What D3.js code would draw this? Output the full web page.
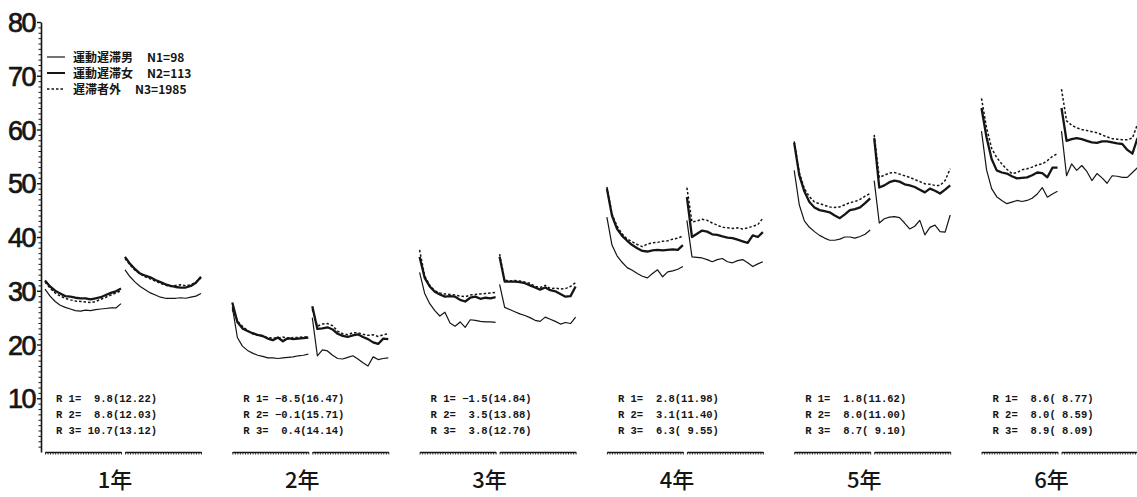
<!DOCTYPE html>
<html>
<head>
<meta charset="utf-8">
<script src="https://cdn.jsdelivr.net/npm/d3@7"></script>
<style>
  html, body { margin: 0; padding: 0; background: #fff; }
  svg { display: block; }
</style>
</head>
<body>
<svg id="chart" width="1137" height="497"></svg>
<script>
// ---------------- DATA ----------------
const grades = ["1年", "2年", "3年", "4年", "5年", "6年"];
const yTicks = [10, 20, 30, 40, 50, 60, 70, 80];
const seriesNames = ["運動遅滞男", "運動遅滞女", "遅滞者外"];
const seriesN = ["N1=98", "N2=113", "N3=1985"];

// each grade: [first segment, second segment], 16 points per segment
const maleValues = [
  [[30.3,29.0,28.0,27.3,26.9,26.6,26.3,26.2,26.4,26.3,26.5,26.6,26.7,26.8,26.8,27.6],
   [33.9,32.6,31.6,30.8,30.2,29.6,29.2,28.8,28.6,28.6,28.6,28.7,28.6,28.8,29.0,29.5]],
  [[27.0,21.3,19.7,18.9,18.4,18.0,17.8,17.5,17.5,17.4,17.5,17.6,17.7,17.9,18.0,18.2],
   [25.0,17.9,19.0,18.8,18.0,17.4,17.3,17.6,17.9,17.3,16.6,16.0,17.7,17.2,17.4,17.5]],
  [[33.4,29.5,27.6,26.3,25.3,26.0,24.0,23.4,24.2,23.2,24.6,24.5,24.3,24.2,24.2,24.1],
   [31.2,26.9,26.5,26.1,25.7,25.4,25.0,24.5,24.3,25.1,24.7,24.3,23.8,24.1,23.9,25.1]],
  [[43.7,38.5,36.5,35.3,34.3,33.8,33.2,32.7,32.4,33.2,33.9,32.6,33.5,33.7,34.0,34.5],
   [43.1,36.3,36.2,36.1,35.8,35.4,35.8,36.0,35.4,35.2,35.6,35.8,35.2,34.5,35.0,35.4]],
  [[52.4,46.0,43.0,41.8,41.0,40.3,39.8,39.4,39.4,39.6,40.0,40.0,39.8,40.1,40.5,41.3],
   [50.5,42.6,43.4,43.7,43.8,43.6,42.6,41.5,42.0,43.1,40.4,41.8,42.2,41.0,40.9,44.1]],
  [[59.7,52.5,49.0,47.5,46.8,46.2,46.5,46.8,46.6,46.8,47.2,48.0,49.2,47.4,48.0,48.5],
   [59.7,51.4,53.6,52.4,53.3,52.2,50.5,51.8,51.0,50.0,51.4,51.3,51.1,51.1,52.0,52.9]]
];
const femaleValues = [
  [[31.9,30.8,30.0,29.5,29.0,28.9,28.7,28.6,28.6,28.4,28.6,28.8,29.2,29.6,29.9,30.4],
   [36.3,35.0,34.0,33.2,32.8,32.5,32.0,31.6,31.2,30.9,30.7,30.6,30.6,30.9,31.5,32.6]],
  [[27.8,24.2,23.0,22.5,22.1,21.8,21.6,21.1,20.8,21.3,20.6,21.2,21.0,21.1,21.2,21.3],
   [27.1,22.9,23.0,23.2,22.8,22.0,21.6,21.4,21.7,21.9,21.4,21.0,20.4,20.1,21.1,21.0]],
  [[36.3,32.4,30.8,29.8,29.3,28.9,29.0,28.9,28.3,28.0,28.7,28.9,28.5,28.7,28.6,28.8],
   [36.3,31.7,31.7,31.7,31.6,31.4,31.0,30.6,30.2,30.6,30.1,29.9,29.4,28.9,29.0,30.8]],
  [[49.0,44.0,41.5,40.2,39.3,38.5,37.9,37.4,37.3,37.5,37.6,37.5,37.6,37.7,37.6,38.5],
   [47.4,40.0,40.6,41.2,41.0,40.5,40.4,40.1,39.9,39.8,39.5,39.2,38.9,40.3,40.0,40.9]],
  [[57.5,51.5,48.5,46.5,45.5,45.0,44.8,44.6,44.0,43.5,44.2,45.0,45.2,45.5,46.3,47.2],
   [58.4,49.2,49.6,50.2,50.5,50.3,49.8,49.6,49.3,48.8,48.3,49.0,48.6,48.1,48.8,49.6]],
  [[64.0,58.5,54.5,52.4,52.0,51.8,51.3,50.9,51.0,51.1,51.5,52.0,51.9,51.1,52.9,52.9],
   [64.0,57.9,58.2,58.4,58.2,57.9,57.6,57.5,57.8,57.8,57.6,57.4,57.3,56.2,55.5,58.4]]
];
const otherValues = [
  [[31.6,30.5,29.6,29.0,28.6,28.3,28.1,28.0,27.9,27.8,28.0,28.4,28.8,29.2,29.6,30.0],
   [36.0,34.8,33.8,33.1,32.6,32.2,31.8,31.4,31.0,30.8,31.0,31.1,30.9,31.1,31.6,32.4]],
  [[26.5,24.4,23.4,22.6,22.0,21.7,21.5,21.3,21.2,21.2,21.4,21.0,21.3,21.3,21.4,21.4],
   [26.5,23.4,23.8,23.9,23.5,22.5,22.0,21.8,22.2,22.2,21.9,21.7,21.8,21.5,21.8,22.0]],
  [[37.6,32.8,31.0,30.0,29.6,29.4,29.3,29.2,29.0,28.9,29.2,29.3,29.4,29.5,29.6,29.7],
   [36.8,32.0,31.8,31.9,31.8,31.6,31.4,30.8,30.6,31.0,30.4,30.5,30.3,30.4,30.8,31.5]],
  [[49.3,44.3,42.0,40.6,39.6,39.1,38.6,38.2,38.7,38.9,39.0,39.2,39.3,39.6,39.8,40.2],
   [49.2,42.8,43.0,43.3,43.1,42.6,42.2,41.8,41.7,41.6,41.7,41.5,41.7,42.0,42.3,43.5]],
  [[57.8,52.0,49.0,47.5,46.5,46.2,45.9,45.6,45.5,45.6,46.0,46.4,46.6,47.0,47.6,48.1],
   [59.0,51.1,51.5,51.9,52.0,51.7,51.4,51.1,50.7,50.3,49.9,49.8,49.6,49.6,50.5,52.7]],
  [[65.8,60.3,56.5,54.8,53.6,52.6,51.8,52.0,52.5,52.7,53.0,53.4,53.6,54.2,55.0,55.5],
   [67.5,61.6,60.8,60.3,60.0,59.8,59.6,59.4,59.0,58.6,58.3,58.2,58.1,58.1,58.4,61.0]]
];

const r1Mean = [9.8, -8.5, -1.5, 2.8, 1.8, 8.6];
const r1SD   = [12.22, 16.47, 14.84, 11.98, 11.62, 8.77];
const r2Mean = [8.8, -0.1, 3.5, 3.1, 8.0, 8.0];
const r2SD   = [12.03, 15.71, 13.88, 11.40, 11.00, 8.59];
const r3Mean = [10.7, 0.4, 3.8, 6.3, 8.7, 8.9];
const r3SD   = [13.12, 14.14, 12.76, 9.55, 9.10, 8.09];

// ---------------- LAYOUT ----------------
const svg = d3.select("#chart");
const ink = "#151515";
const axisX = 41;
const gradeStart0 = 45, gradeStep = 187.3, segW = 76, segGap = 4;
const nPts = 16;

const y = d3.scaleLinear().domain([0, 80]).range([452, 22]);

// Y axis - minor ticks
const minor = svg.append("g").attr("transform", `translate(${axisX},0)`)
  .call(d3.axisLeft(y).tickValues(d3.range(1, 80, 1).filter(v => v % 10 !== 0))
    .tickSize(2.5).tickSizeOuter(0).tickFormat(""));
minor.select(".domain").remove();
minor.selectAll("line").attr("stroke", ink).attr("stroke-width", 1);

// Y axis - major
const yAx = svg.append("g").attr("transform", `translate(${axisX},0)`)
  .call(d3.axisLeft(y).tickValues(yTicks).tickSize(4).tickPadding(2).tickSizeOuter(0));
yAx.select(".domain").attr("stroke", ink).attr("stroke-width", 1.6);
yAx.selectAll("line").attr("stroke", ink).attr("stroke-width", 1.4);
yAx.selectAll("text")
  .attr("fill", ink)
  .attr("stroke", ink)
  .attr("stroke-width", 0.7)
  .style("font-family", "'Liberation Sans', Arial, sans-serif")
  .style("font-size", "27px")
  .style("letter-spacing", "-1.5px")
  .attr("dy", "0.36em");

// line generators & styles
const styles = [
  { w: 1.2, dash: null },      // male: thin solid
  { w: 2.3, dash: null },      // female: thick solid
  { w: 1.5, dash: "2.5,2" }    // others: dotted
];
const allSeries = [maleValues, femaleValues, otherValues];

const fmtM = d3.format(".1f");
const fmtS = d3.format(".2f");
const pad = (s, n) => (s.length < n ? " ".repeat(n - s.length) + s : s);
const rText = (m, s) => pad(fmtM(m), 4) + "(" + pad(fmtS(s), 5) + ")";
const rRows = [[r1Mean, r1SD], [r2Mean, r2SD], [r3Mean, r3SD]];

grades.forEach((gName, g) => {
  const gStart = gradeStart0 + g * gradeStep;
  [0, 1].forEach(seg => {
    const x0 = gStart + seg * (segW + segGap);
    const x = d3.scaleLinear().domain([0, nPts - 1]).range([x0, x0 + segW]);

    // bottom axis segment
    const xa = svg.append("g").attr("transform", `translate(0,${y(0)})`)
      .call(d3.axisBottom(x).tickValues(d3.range(0, nPts - 0.99, 0.5))
        .tickSize(2.5).tickSizeOuter(0).tickFormat(""));
    xa.select(".domain").attr("stroke", ink).attr("stroke-width", 1.5);
    xa.selectAll("line").attr("stroke", ink).attr("stroke-width", 0.9);

    const line = d3.line().x((d, i) => x(i)).y(d => y(d));
    allSeries.forEach((ser, k) => {
      svg.append("path")
        .datum(ser[g][seg])
        .attr("d", line)
        .attr("fill", "none")
        .attr("stroke", ink)
        .attr("stroke-width", styles[k].w)
        .attr("stroke-linejoin", "round")
        .attr("stroke-dasharray", styles[k].dash);
    });
  });

  // R annotations
  rRows.forEach(([means, sds], r) => {
    const by = 401.5 + r * 16;
    svg.append("text")
      .attr("x", gStart + 11).attr("y", by)
      .attr("fill", ink)
      .style("font-family", "'Liberation Mono', 'DejaVu Sans Mono', monospace")
      .style("font-size", "10.5px").style("font-weight", "bold")
      .style("white-space", "pre")
      .text(`R ${r + 1}=`);
    svg.append("text")
      .attr("x", gStart + 112).attr("y", by)
      .attr("text-anchor", "end")
      .attr("fill", ink)
      .style("font-family", "'Liberation Mono', 'DejaVu Sans Mono', monospace")
      .style("font-size", "10.5px").style("font-weight", "bold")
      .style("white-space", "pre")
      .text(rText(means[g], sds[g]));
  });

  // grade label
  svg.append("text")
    .attr("x", gStart + 70).attr("y", 488)
    .attr("text-anchor", "middle")
    .attr("fill", ink)
    .style("font-family", "'Noto Sans CJK JP', sans-serif")
    .style("font-size", "22px").style("font-weight", "500")
    .text(gName);
});

// Legend
const legRows = [57, 73, 89];
seriesNames.forEach((name, k) => {
  const ly = legRows[k];
  svg.append("line")
    .attr("x1", 47).attr("x2", 65).attr("y1", ly).attr("y2", ly)
    .attr("stroke", ink).attr("stroke-width", k === 0 ? 1.2 : (k === 1 ? 2.0 : 1.4))
    .attr("stroke-dasharray", styles[k].dash);
  const t = svg.append("text")
    .attr("x", 73).attr("y", ly + 4.5)
    .attr("fill", ink)
    .style("font-family", "'Noto Sans CJK JP', sans-serif")
    .style("font-size", "12px").style("font-weight", "bold");
  t.append("tspan").text(name);
  t.append("tspan").attr("dx", 14).text(seriesN[k]);
});
</script>
</body>
</html>
